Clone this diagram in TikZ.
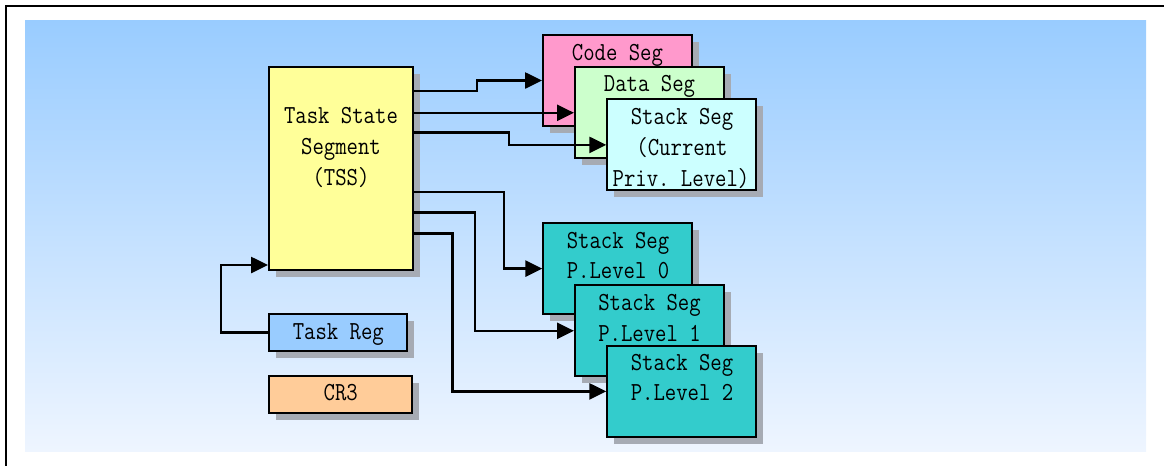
\documentclass[tikz,border=0pt]{standalone}
\usepackage{fontspec}
\setmonofont[FakeStretch=0.85]{Latin Modern Mono}
\usetikzlibrary{arrows.meta,shadows}
\definecolor{bgtop}{RGB}{153,204,255}
\definecolor{bgbot}{RGB}{238,245,255}
\definecolor{shadowc}{RGB}{166,171,180}
\definecolor{tssc}{RGB}{255,255,153}
\definecolor{codec}{RGB}{255,153,204}
\definecolor{datac}{RGB}{204,255,204}
\definecolor{stackc}{RGB}{204,255,255}
\definecolor{plevc}{RGB}{51,204,204}
\definecolor{tregc}{RGB}{153,204,255}
\definecolor{cr3c}{RGB}{255,204,153}
\begin{document}
\begin{tikzpicture}[x=1pt,y=-1pt,
  box/.style={draw=black,line width=2pt,rectangle,inner sep=0pt,
    drop shadow={shadow xshift=7pt,shadow yshift=-7pt,fill=shadowc,opacity=1}},
  seg/.style={box,minimum width=149pt,minimum height=91pt},
  txt/.style={anchor=base,inner sep=0pt,font=\fontsize{26}{30}\selectfont\ttfamily},
  arr/.style={draw=black,line width=2.6pt,-{Triangle[length=17pt,width=16pt]}}]
\useasboundingbox (0,0) rectangle (1164,466);
% frame and background
\shade[top color=bgtop,bottom color=bgbot,middle color=bgtop!50!bgbot] (25,20) rectangle (1146,451);
\draw[line width=2.5pt] (1164,6) -- (6,6) -- (6,466);
% boxes
\node[box,fill=tssc,minimum width=143.5pt,minimum height=203pt] (tss) at (340.75,168.5) {};
\node[seg,fill=codec] (code) at (617.5,80.5) {};
\node[seg,fill=datac] (data) at (649.5,112.8) {};
\node[seg,fill=stackc] (stk) at (681.8,144.9) {};
\node[seg,fill=plevc] (p0) at (617.8,268.6) {};
\node[seg,fill=plevc] (p1) at (649.5,330.8) {};
\node[seg,fill=plevc] (p2) at (681.8,391.4) {};
\node[box,fill=tregc,minimum width=138pt,minimum height=37pt] (treg) at (338.3,332.5) {};
\node[box,fill=cr3c,minimum width=143pt,minimum height=37.3pt] (cr3) at (340.8,394.7) {};
% texts
\node[txt] (tss1) at (341,123.3) {Task State};
\node[txt] (tss2) at (341,154.5) {Segment};
\node[txt] (tss3) at (341,185.5) {(TSS)};
\node[txt] (codet) at (617.5,60) {Code Seg};
\node[txt] (datat) at (649.5,91.7) {Data Seg};
\node[txt] (stk1) at (682,124) {Stack Seg};
\node[txt] (stk2) at (682,155) {(Current};
\node[txt] (stk3) at (681,186.5) {Priv. Level)};
\node[txt] (p0a) at (618,248.3) {Stack Seg};
\node[txt] (p0b) at (618,278.3) {P.Level 0};
\node[txt] (p1a) at (649.5,310) {Stack Seg};
\node[txt] (p1b) at (649.5,341) {P.Level 1};
\node[txt] (p2a) at (682,370.5) {Stack Seg};
\node[txt] (p2b) at (682,400.7) {P.Level 2};
\node[txt] (tregt) at (338.3,339.3) {Task Reg};
\node[txt] (cr3t) at (340.8,400.7) {CR3};
% connectors
\draw[arr] (tss.east|-0,91) -| (477,0|-code.west) -- (code.west);
\draw[arr] (tss.east|-data.west) -- (data.west);
\draw[arr] (tss.east|-0,132.5) -| (509,0|-stk.west) -- (stk.west);
\draw[arr] (tss.east|-0,192) -| (504,0|-p0.west) -- (p0.west);
\draw[arr] (tss.east|-0,212.5) -| (475,0|-p1.west) -- (p1.west);
\draw[arr] (tss.east|-0,233.5) -| (452.5,0|-p2.west) -- (p2.west);
\draw[arr] (treg.west) -| (221,265) -- (tss.west|-0,265);
\end{tikzpicture}
\end{document}
